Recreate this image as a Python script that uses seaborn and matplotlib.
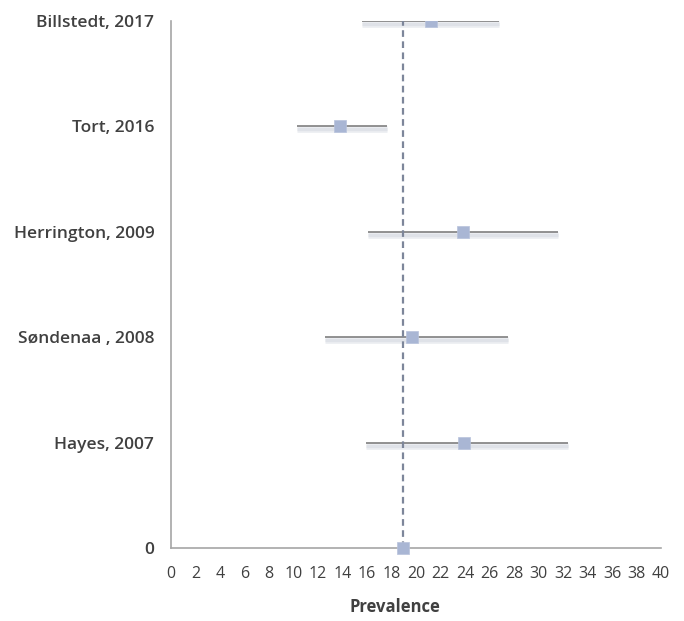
import matplotlib
matplotlib.use("Agg")
import matplotlib.pyplot as plt
import matplotlib.transforms as mtransforms
import seaborn as sns
import pandas as pd

studies = ["Billstedt, 2017", "Tort, 2016", "Herrington, 2009",
           "Søndenaa, 2008", "Hayes, 2007"]
prevalence = [21.2, 13.8, 23.8, 19.7, 23.9]
ci_low = [15.6, 10.3, 16.1, 12.6, 15.9]
ci_high = [26.8, 17.6, 31.6, 27.5, 32.4]
pooled = 18.9

y_pos = [5, 4, 3, 2, 1]
y_tick_labels = ["0", "Hayes, 2007", "Søndenaa , 2008", "Herrington, 2009",
                 "Tort, 2016", "Billstedt, 2017"]
x_ticks = list(range(0, 41, 2))

df = pd.DataFrame({"study": studies, "prev": prevalence, "lo": ci_low,
                   "hi": ci_high, "y": y_pos})
pooled_df = pd.DataFrame({"prev": [pooled], "y": [0]})

sns.set_theme(style="white")
plt.rcParams["font.family"] = ["Open Sans", "DejaVu Sans"]

fig = plt.figure(figsize=(6.84, 6.21), dpi=100)
ax = fig.add_axes([0.25, 0.1176, 0.7164, 0.8486])

line_grey = "#7f7f7f"
marker_col = "#a9b6d4"

# soft drop shadow beneath each interval line
for off, width, col in [(-3, 5, "#eef0f3"), (-3, 2.5, "#dfe2e8")]:
    shadow_tr = mtransforms.offset_copy(ax.transData, fig=fig, x=0, y=off,
                                        units="dots")
    ax.hlines(df["y"], df["lo"], df["hi"], colors=col, linewidth=width,
              transform=shadow_tr, zorder=1)
ax.hlines(df["y"], df["lo"], df["hi"], colors=line_grey, linewidth=1.2, zorder=2)

# pooled estimate reference line
ax.vlines(pooled, 0, 5, colors="#7d869a", linestyles=(0, (3, 2)),
          linewidth=1.6, zorder=3)

sns.scatterplot(data=df, x="prev", y="y", marker="s", s=85, color=marker_col,
                edgecolor="#b8c3dc", linewidth=0.5, ax=ax, zorder=4)
sns.scatterplot(data=pooled_df, x="prev", y="y", marker="s", s=85,
                color=marker_col, edgecolor="#b8c3dc", linewidth=0.5, ax=ax,
                zorder=4, clip_on=False)

ax.set_xlim(0, 40)
ax.set_ylim(0, 5)
ax.set_xticks(x_ticks)
ax.set_xticklabels([str(t) for t in x_ticks])
ax.set_yticks(range(0, 6))
ax.set_yticklabels(y_tick_labels)

for side in ["top", "right"]:
    ax.spines[side].set_visible(False)
for side in ["left", "bottom"]:
    ax.spines[side].set_color("#a6a6a6")
    ax.spines[side].set_linewidth(1.2)

ax.tick_params(axis="x", direction="inout", length=6, width=1, color="#a6a6a6",
               labelsize=11.5, labelcolor="#404040", pad=10)
ax.tick_params(axis="y", direction="out", length=4, width=1, color="#a6a6a6",
               labelsize=12.5, labelcolor="#404040", pad=8)
for lab in ax.get_yticklabels():
    lab.set_fontweight("semibold")

ax.set_xlabel("")
ax.set_ylabel("")
fig.text(395 / 684, 1 - 607 / 621, "Prevalence", ha="center", va="center",
         fontsize=12, fontweight="bold", color="#404040")

fig.savefig("out.png", dpi=100)
